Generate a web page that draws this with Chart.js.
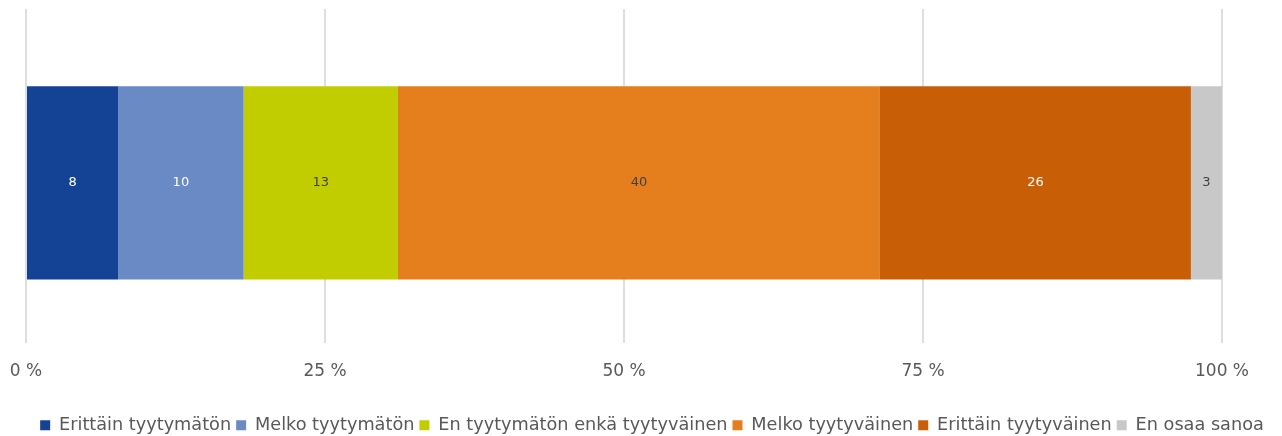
<!DOCTYPE html>
<html>
<head>
<meta charset="utf-8">
<script src="https://cdn.jsdelivr.net/npm/chart.js@4/dist/chart.umd.min.js"></script>
<style>
  html, body { margin: 0; padding: 0; background: #fff; }
  #wrap { width: 1282px; height: 436px; }
</style>
</head>
<body>
<div id="wrap"><canvas id="chartId" width="1282" height="436"></canvas></div>
<script>
// data
const categories = [""];
const seriesNames = ["Erittäin tyytymätön", "Melko tyytymätön", "En tyytymätön enkä tyytyväinen",
                     "Melko tyytyväinen", "Erittäin tyytyväinen", "En osaa sanoa"];
const seriesValues = [7.7, 10.5, 12.9, 40.3, 26.0, 2.6];
const valueLabels = ["8", "10", "13", "40", "26", "3"];
const tickValues = [0, 25, 50, 75, 100];

const colors = ['#144395', '#6a8ac6', '#c2cd00', '#e57f1e', '#c85f07', '#c8c8c8'];
const labelColors = ['#ffffff', '#ffffff', '#404040', '#404040', '#ffffff', '#404040'];

const fontFamily = "'DejaVu Sans', sans-serif";

// draws the number in the middle of each segment
const segmentLabels = {
    id: 'segmentLabels',
    afterDatasetsDraw(chart) {
        const ctx = chart.ctx;
        ctx.save();
        ctx.font = "13px " + fontFamily;
        ctx.textAlign = 'center';
        ctx.textBaseline = 'middle';
        chart.data.datasets.forEach((ds, i) => {
            const meta = chart.getDatasetMeta(i);
            meta.data.forEach((bar) => {
                const p = bar.getCenterPoint();
                ctx.fillStyle = labelColors[i];
                ctx.fillText(valueLabels[i], p.x, p.y);
            });
        });
        ctx.restore();
    }
};

const datasets = seriesNames.map((name, i) => ({
    label: name,
    data: [seriesValues[i]],
    backgroundColor: colors[i],
    borderWidth: 0,
    categoryPercentage: 0.578,
    barPercentage: 1
}));

const chrt = document.getElementById("chartId").getContext("2d");
const chart = new Chart(chrt, {
    type: 'bar',
    data: { labels: categories, datasets: datasets },
    plugins: [segmentLabels],
    options: {
        indexAxis: 'y',
        responsive: false,
        animation: false,
        layout: { padding: { left: 22, right: 0, top: 9, bottom: -8 } },
        scales: {
            x: {
                stacked: true,
                min: 0,
                max: 100,
                afterBuildTicks: (axis) => { axis.ticks = tickValues.map(v => ({ value: v })); },
                afterFit: (scale) => {
                    // room on the sides like in the original
                    scale.paddingLeft = 26;
                    scale.paddingRight = 60;
                    scale.height = 68;
                },
                grid: { color: '#dedede', lineWidth: 2, drawTicks: false },
                border: { display: false },
                ticks: {
                    padding: 18,
                    color: '#595959',
                    font: { family: fontFamily, size: 17 },
                    callback: (v) => v + ' %'
                }
            },
            y: {
                stacked: true,
                display: false,
                // the bar sits a little below the middle in the original
                afterBuildTicks: (scale) => { scale._startValue = -0.52; }
            }
        },
        plugins: {
            legend: {
                position: 'bottom',
                labels: {
                    boxWidth: 10,
                    boxHeight: 10,
                    padding: 5,
                    color: '#595959',
                    font: { family: fontFamily, size: 17.7, lineHeight: 1 }
                }
            },
            tooltip: { enabled: false }
        }
    }
});
</script>
</body>
</html>
